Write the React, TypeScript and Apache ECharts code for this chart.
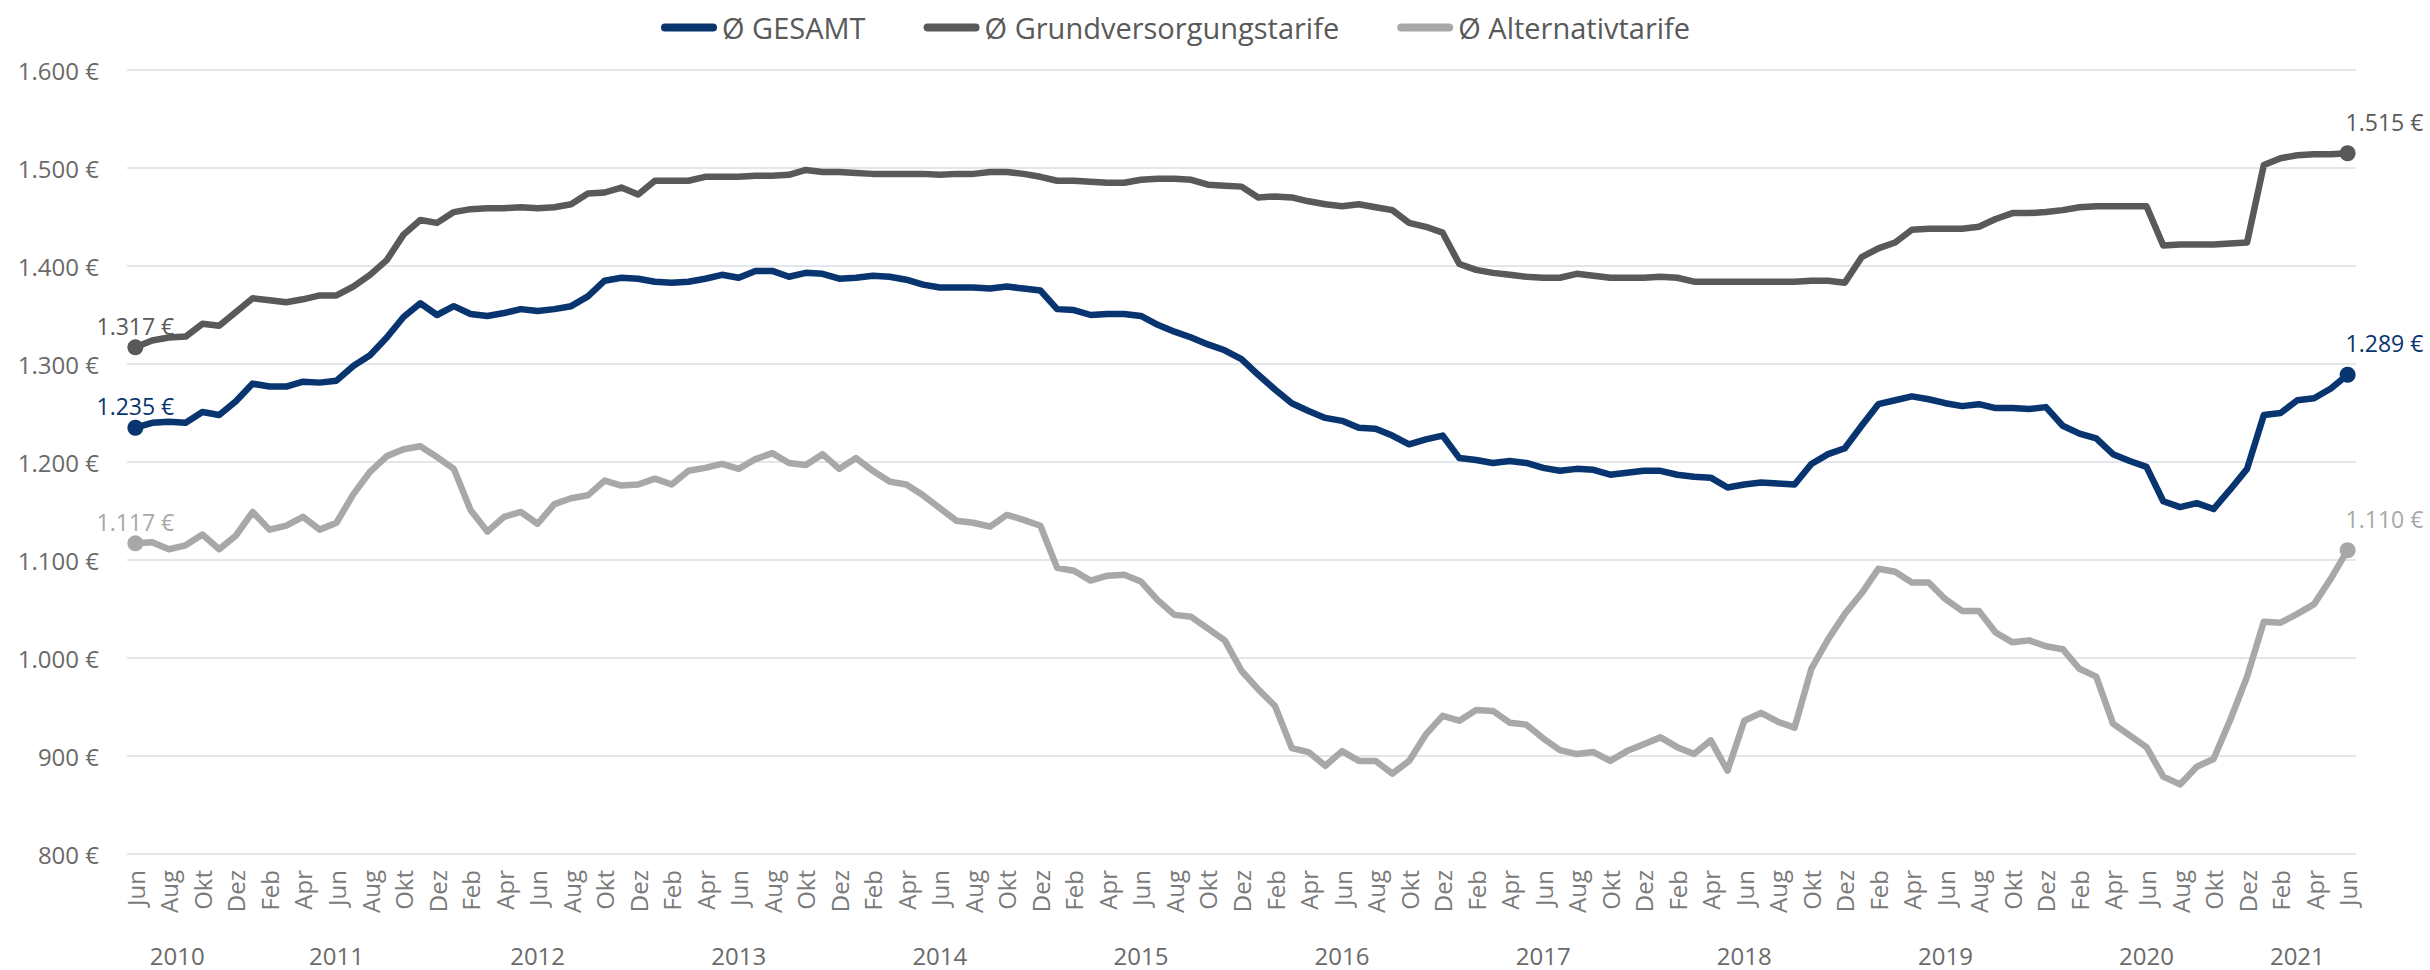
import React, { useEffect, useRef } from 'react';
import * as echarts from 'echarts';

// Month abbreviations (German) and series start
const monthNames = ['Jan', 'Feb', 'Mär', 'Apr', 'Mai', 'Jun', 'Jul', 'Aug', 'Sep', 'Okt', 'Nov', 'Dez'];
const startYear = 2010;
const startMonthIndex = 5; // Jun
const years = ['2010', '2011', '2012', '2013', '2014', '2015', '2016', '2017', '2018', '2019', '2020', '2021'];

const seriesNames = ['Ø GESAMT', 'Ø Grundversorgungstarife', 'Ø Alternativtarife'];

// Monthly averages Jun 2010 – Jun 2021 (133 months)
const gesamt = [
  1235, 1240, 1241, 1240, 1251, 1248, 1262, 1280, 1277, 1277, 1282, 1281, 1283,
  1298, 1309, 1327, 1348, 1362, 1350, 1359, 1351, 1349, 1352, 1356, 1354,
  1356, 1359, 1369, 1385, 1388, 1387, 1384, 1383, 1384, 1387, 1391, 1388,
  1395, 1395, 1389, 1393, 1392, 1387, 1388, 1390, 1389, 1386, 1381, 1378,
  1378, 1378, 1377, 1379, 1377, 1375, 1356, 1355, 1350, 1351, 1351, 1349,
  1340, 1333, 1327, 1320, 1314, 1305, 1289, 1274, 1260, 1252, 1245, 1242,
  1235, 1234, 1227, 1218, 1223, 1227, 1204, 1202, 1199, 1201, 1199, 1194,
  1191, 1193, 1192, 1187, 1189, 1191, 1191, 1187, 1185, 1184, 1174, 1177,
  1179, 1178, 1177, 1198, 1208, 1214, 1237, 1259, 1263, 1267, 1264, 1260,
  1257, 1259, 1255, 1255, 1254, 1256, 1237, 1229, 1224, 1208, 1201, 1195,
  1160, 1154, 1158, 1152, 1172, 1193, 1248, 1250, 1263, 1265, 1275, 1289,
];

const grund = [
  1317, 1324, 1327, 1328, 1341, 1339, 1353, 1367, 1365, 1363, 1366, 1370, 1370,
  1379, 1391, 1406, 1432, 1447, 1444, 1455, 1458, 1459, 1459, 1460, 1459,
  1460, 1463, 1474, 1475, 1480, 1473, 1487, 1487, 1487, 1491, 1491, 1491,
  1492, 1492, 1493, 1498, 1496, 1496, 1495, 1494, 1494, 1494, 1494, 1493,
  1494, 1494, 1496, 1496, 1494, 1491, 1487, 1487, 1486, 1485, 1485, 1488,
  1489, 1489, 1488, 1483, 1482, 1481, 1470, 1471, 1470, 1466, 1463, 1461,
  1463, 1460, 1457, 1444, 1440, 1434, 1402, 1396, 1393, 1391, 1389, 1388,
  1388, 1392, 1390, 1388, 1388, 1388, 1389, 1388, 1384, 1384, 1384, 1384,
  1384, 1384, 1384, 1385, 1385, 1383, 1409, 1418, 1424, 1437, 1438, 1438,
  1438, 1440, 1448, 1454, 1454, 1455, 1457, 1460, 1461, 1461, 1461, 1461,
  1421, 1422, 1422, 1422, 1423, 1424, 1503, 1510, 1513, 1514, 1514, 1515,
];

const alternativ = [
  1117, 1118, 1111, 1115, 1126, 1111, 1125, 1149, 1131, 1135, 1144, 1131, 1138,
  1167, 1190, 1206, 1213, 1216, 1205, 1193, 1151, 1129, 1144, 1149, 1137,
  1157, 1163, 1166, 1181, 1176, 1177, 1183, 1177, 1191, 1194, 1198, 1193,
  1203, 1209, 1199, 1197, 1208, 1193, 1204, 1191, 1180, 1177, 1166, 1153,
  1140, 1138, 1134, 1146, 1141, 1135, 1092, 1089, 1079, 1084, 1085, 1078,
  1059, 1044, 1042, 1030, 1018, 987, 968, 951, 908, 904, 890, 905,
  895, 895, 882, 895, 922, 941, 936, 947, 946, 934, 932, 918,
  906, 902, 904, 895, 905, 912, 919, 909, 902, 916, 885, 936,
  944, 935, 929, 989, 1019, 1045, 1066, 1091, 1088, 1077, 1077, 1060,
  1048, 1048, 1026, 1016, 1018, 1012, 1009, 989, 981, 933, 921, 909,
  879, 871, 889, 897, 937, 981, 1037, 1036, 1045, 1055, 1081, 1110,
];

// Categories "YYYY-Mon" for every month
const categories = gesamt.map((_, i) => {
  const m = startMonthIndex + i;
  return `${startYear + Math.floor(m / 12)}-${monthNames[m % 12]}`;
});

const yMin = 800;
const yMax = 1600;
const yStep = 100;

const colors = { gesamt: '#08346f', grund: '#595959', alternativ: '#a8a8a8' };
const FONT = "'Open Sans', 'Noto Sans', sans-serif";

const fmtEuro = (v: number) =>
  v >= 1000 ? `${Math.floor(v / 1000)}.${String(v % 1000).padStart(3, '0')} €` : `${v} €`;

// Year group centres (in category index units)
const yearCenters: { year: string; center: number }[] = years.map((y) => {
  const idx = categories.map((c, i) => (c.startsWith(y) ? i : -1)).filter((i) => i >= 0);
  return { year: y, center: (idx[0] + idx[idx.length - 1]) / 2 - 0.5 };
});

function buildSeries(name: string, values: number[], color: string) {
  const last = values.length - 1;
  const labelBase = { show: true, color, fontFamily: FONT, fontSize: 23, formatter: (p: any) => fmtEuro(p.value) };
  return {
    name,
    type: 'line',
    data: values.map((v, i) => {
      if (i === 0) return { value: v, symbolSize: 16, label: { ...labelBase, position: 'top', distance: 2 } };
      if (i === last)
        return { value: v, symbolSize: 16, label: { ...labelBase, position: 'top', align: 'left', distance: 2, offset: [-2, -10] } };
      return v;
    }),
    symbol: 'circle',
    symbolSize: 0,
    showSymbol: true,
    showAllSymbol: true,
    lineStyle: { width: 6.5, color, cap: 'round', join: 'round' },
    itemStyle: { color },
    label: { show: false },
    emphasis: { disabled: true },
  };
}

export default function App() {
  const ref = useRef<HTMLDivElement>(null);
  useEffect(() => {
    if (!ref.current) return;
    const chart = echarts.init(ref.current, undefined, { renderer: 'svg' });
    const capsule = 'path://M4 0H52A4 4 0 0 1 52 8H4A4 4 0 0 1 4 0Z';
    chart.setOption({
      animation: false,
      backgroundColor: '#ffffff',
      legend: {
        top: 8,
        left: 656,
        itemWidth: 56,
        itemHeight: 8,
        itemGap: 58,
        icon: capsule,
        data: seriesNames,
        textStyle: { fontFamily: FONT, fontSize: 29, color: '#595959' },
      },
      grid: { left: 127, right: 74, top: 70, bottom: 116, containLabel: false },
      xAxis: [
        {
          type: 'category',
          data: categories,
          boundaryGap: true,
          axisLine: { show: false },
          axisTick: { show: false },
          splitLine: { show: false },
          axisLabel: {
            interval: 1,
            rotate: 90,
            margin: 16,
            fontFamily: FONT,
            fontSize: 24,
            color: '#7a7a7a',
            formatter: (v: string) => v.split('-')[1],
          },
        },
        {
          type: 'value',
          position: 'bottom',
          min: -0.5,
          max: categories.length - 0.5,
          interval: 0.5,
          axisLine: { show: false },
          axisTick: { show: false },
          splitLine: { show: false },
          axisLabel: {
            margin: 88,
            fontFamily: FONT,
            fontSize: 24,
            lineHeight: 26,
            color: '#6a6a6a',
            showMinLabel: true,
            showMaxLabel: true,
            formatter: (v: number) => {
              const f = yearCenters.find((y) => Math.abs(y.center - v) < 0.01);
              return f ? f.year : '';
            },
          },
        },
      ],
      yAxis: {
        type: 'value',
        min: yMin,
        max: yMax,
        interval: yStep,
        axisLine: { show: false },
        axisTick: { show: false },
        splitLine: { lineStyle: { color: '#e3e6eb', width: 2 } },
        axisLabel: {
          margin: 28,
          fontFamily: FONT,
          fontSize: 24,
          color: '#6a6a6a',
          formatter: (v: number) => fmtEuro(v),
        },
      },
      series: [
        buildSeries(seriesNames[1], grund, colors.grund),
        buildSeries(seriesNames[0], gesamt, colors.gesamt),
        buildSeries(seriesNames[2], alternativ, colors.alternativ),
      ],
    });
    return () => chart.dispose();
  }, []);
  return <div ref={ref} style={{ position: 'fixed', left: 0, top: 0, width: 2430, height: 970 }} />;
}
